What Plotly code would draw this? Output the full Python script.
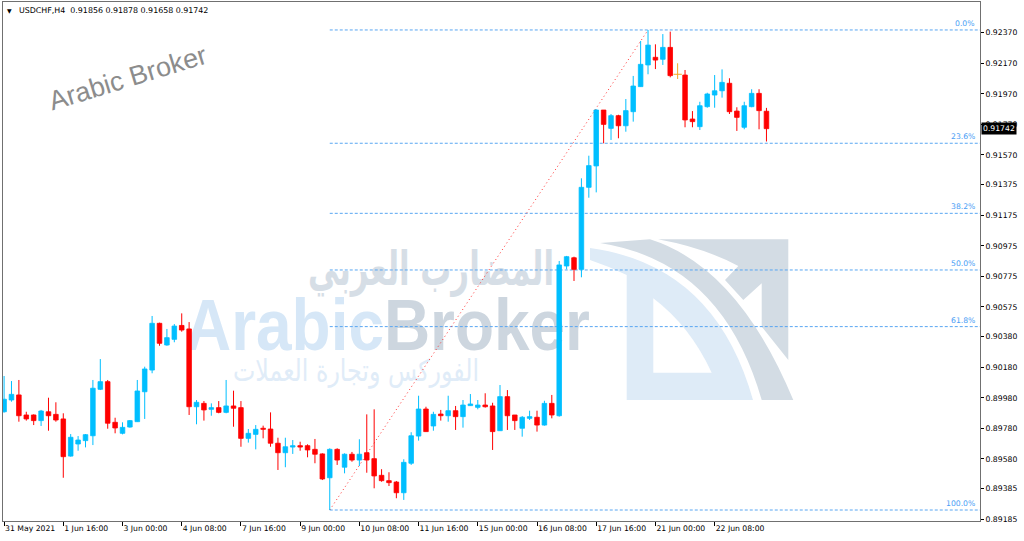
import base64
import plotly.graph_objects as go

# ---------------- data (USDCHF H4) ----------------
open_ = [0.89889, 0.89966, 0.89999, 0.89868, 0.89868, 0.89831, 0.89889, 0.89872, 0.89842, 0.89599,
         0.89678, 0.89700, 0.89732, 0.90036, 0.90086, 0.89820, 0.89748, 0.89789, 0.89824, 0.90020,
         0.90162, 0.90468, 0.90326, 0.90363, 0.90454, 0.90431, 0.89922, 0.89944, 0.89905, 0.89916,
         0.89885, 0.89927, 0.89916, 0.89715, 0.89741, 0.89781, 0.89776, 0.89683, 0.89621, 0.89658,
         0.89667, 0.89667, 0.89643, 0.89613, 0.89457, 0.89643, 0.89526, 0.89611, 0.89573, 0.89621,
         0.89582, 0.89473, 0.89438, 0.89429, 0.89359, 0.89552, 0.89730, 0.89907, 0.89796, 0.89874,
         0.89863, 0.89896, 0.89857, 0.89929, 0.89918, 0.89933, 0.89927, 0.89765, 0.89988, 0.89868,
         0.89781, 0.89846, 0.89853, 0.89802, 0.89944, 0.89863, 0.90843, 0.90897, 0.90821, 0.91358,
         0.91498, 0.91864, 0.91744, 0.91827, 0.91761, 0.91853, 0.92017, 0.92159, 0.92209, 0.92196,
         0.92274, 0.92098, 0.92093, 0.91805, 0.91755, 0.91886, 0.91962, 0.91990, 0.92039, 0.91857,
         0.91751, 0.91886, 0.91973, 0.91856]
high = [0.90123, 0.90090, 0.90097, 0.89889, 0.89872, 0.89901, 0.89981, 0.89951, 0.89879, 0.89743,
        0.89730, 0.89743, 0.90097, 0.90234, 0.90097, 0.89850, 0.89820, 0.89835, 0.90097, 0.90184,
        0.90516, 0.90472, 0.90431, 0.90463, 0.90533, 0.90476, 0.89966, 0.89959, 0.89944, 0.89959,
        0.90097, 0.90027, 0.89959, 0.89776, 0.89802, 0.89798, 0.89885, 0.89719, 0.89719, 0.89704,
        0.89693, 0.89676, 0.89711, 0.89617, 0.89650, 0.89650, 0.89617, 0.89626, 0.89709, 0.89872,
        0.89905, 0.89513, 0.89493, 0.89436, 0.89578, 0.89755, 0.89994, 0.89922, 0.89889, 0.89901,
        0.89994, 0.89927, 0.89966, 0.90005, 0.89966, 0.90010, 0.89948, 0.90064, 0.90031, 0.89868,
        0.89861, 0.89896, 0.89896, 0.89961, 0.89999, 0.90876, 0.90909, 0.90904, 0.91417, 0.91565,
        0.91869, 0.91864, 0.91838, 0.91833, 0.91936, 0.92087, 0.92316, 0.92388, 0.92294, 0.92361,
        0.92377, 0.92170, 0.92126, 0.91857, 0.91918, 0.91977, 0.92093, 0.92130, 0.92072, 0.91882,
        0.91918, 0.92000, 0.92000, 0.91878]
low = [0.89883, 0.89955, 0.89824, 0.89831, 0.89802, 0.89796, 0.89765, 0.89824, 0.89457, 0.89595,
       0.89634, 0.89656, 0.89671, 0.90031, 0.89778, 0.89748, 0.89741, 0.89785, 0.89824, 0.89842,
       0.90141, 0.90321, 0.90321, 0.90344, 0.90413, 0.89868, 0.89807, 0.89831, 0.89863, 0.89879,
       0.89879, 0.89791, 0.89660, 0.89687, 0.89643, 0.89715, 0.89660, 0.89508, 0.89526, 0.89613,
       0.89634, 0.89591, 0.89552, 0.89442, 0.89246, 0.89541, 0.89486, 0.89562, 0.89534, 0.89490,
       0.89388, 0.89431, 0.89403, 0.89323, 0.89312, 0.89541, 0.89700, 0.89759, 0.89765, 0.89831,
       0.89824, 0.89770, 0.89785, 0.89929, 0.89905, 0.89916, 0.89639, 0.89765, 0.89770, 0.89770,
       0.89726, 0.89835, 0.89759, 0.89798, 0.89846, 0.89857, 0.90821, 0.90745, 0.90769, 0.91290,
       0.91325, 0.91646, 0.91668, 0.91679, 0.91722, 0.91788, 0.92017, 0.92098, 0.92132, 0.92159,
       0.92078, 0.92067, 0.91751, 0.91751, 0.91733, 0.91879, 0.91879, 0.91945, 0.91838, 0.91727,
       0.91738, 0.91882, 0.91738, 0.91658]
close = [0.89971, 0.90003, 0.89863, 0.89842, 0.89831, 0.89894, 0.89863, 0.89835, 0.89595, 0.89722,
         0.89704, 0.89739, 0.90043, 0.90086, 0.89814, 0.89783, 0.89787, 0.89831, 0.90025, 0.90169,
         0.90468, 0.90337, 0.90374, 0.90450, 0.90424, 0.89922, 0.89951, 0.89901, 0.89916, 0.89885,
         0.89927, 0.89912, 0.89715, 0.89748, 0.89774, 0.89774, 0.89683, 0.89621, 0.89660, 0.89667,
         0.89658, 0.89639, 0.89611, 0.89449, 0.89643, 0.89573, 0.89611, 0.89573, 0.89611, 0.89573,
         0.89469, 0.89438, 0.89425, 0.89359, 0.89558, 0.89732, 0.89907, 0.89759, 0.89872, 0.89863,
         0.89896, 0.89857, 0.89933, 0.89940, 0.89933, 0.89922, 0.89759, 0.89988, 0.89863, 0.89831,
         0.89853, 0.89857, 0.89802, 0.89944, 0.89868, 0.90850, 0.90904, 0.90821, 0.91358, 0.91500,
         0.91864, 0.91770, 0.91827, 0.91761, 0.91860, 0.92021, 0.92163, 0.92289, 0.92191, 0.92274,
         0.92089, 0.92098, 0.91799, 0.91788, 0.91892, 0.91969, 0.91990, 0.92045, 0.91853, 0.91816,
         0.91892, 0.91973, 0.91860, 0.91742]

x_tick_index = [0, 8, 16, 24, 32, 40, 48, 56, 64, 72, 80, 88, 96]
x_tick_labels = ["31 May 2021", "1 Jun 16:00", "3 Jun 00:00", "4 Jun 08:00", "7 Jun 16:00",
                 "9 Jun 00:00", "10 Jun 08:00", "11 Jun 16:00", "15 Jun 00:00", "16 Jun 08:00",
                 "17 Jun 16:00", "21 Jun 00:00", "22 Jun 08:00"]
y_tick_values = [0.92370, 0.92170, 0.91970, 0.91770, 0.91570, 0.91375, 0.91175, 0.90975, 0.90775,
                 0.90575, 0.90380, 0.90180, 0.89980, 0.89780, 0.89580, 0.89385, 0.89185]

fib_levels = [0.0, 23.6, 38.2, 50.0, 61.8, 100.0]
FIB_FROM = 44   # bar of the swing low
FIB_TO = 87     # bar of the swing high

SYMBOL = "USDCHF,H4"

# ---------------- styling ----------------
BULL = "#00bfff"
BEAR = "#ff0000"
DOJI = "#f5a623"
FIB_COLOR = "#58a6f2"
FONT = "DejaVu Sans"
X_RANGE = [-0.146, 131.85]
Y_RANGE = [0.89174, 0.92571]
BODY_W = 0.62

n = len(open_)
idx = list(range(n))
bull = [i for i in idx if close[i] > open_[i]]
bear = [i for i in idx if close[i] < open_[i]]
doji = [i for i in idx if close[i] == open_[i]]


def wick_xy(ids):
    xs, ys = [], []
    for i in ids:
        xs += [i, i, None]
        ys += [low[i], high[i], None]
    return xs, ys


fig = go.Figure()
for ids, col in ((bull, BULL), (bear, BEAR), (doji, DOJI)):
    wx, wy = wick_xy(ids)
    fig.add_trace(go.Scatter(x=wx, y=wy, mode="lines", line=dict(color=col, width=1),
                             hoverinfo="skip", showlegend=False))
for ids, col in ((bull, BULL), (bear, BEAR)):
    fig.add_trace(go.Bar(
        x=ids,
        base=[min(open_[i], close[i]) for i in ids],
        y=[abs(close[i] - open_[i]) for i in ids],
        width=BODY_W,
        marker=dict(color=col, line=dict(color=col, width=0.8)),
        hoverinfo="skip", showlegend=False))
fig.add_trace(go.Scatter(x=doji, y=[close[i] for i in doji], mode="markers",
                         marker=dict(symbol="line-ew", size=6, line=dict(color=DOJI, width=1)),
                         hoverinfo="skip", showlegend=False))

# ---------------- Fibonacci retracement ----------------
fib_hi = high[FIB_TO]
fib_lo = low[FIB_FROM]
shapes = []
annotations = []
for lv in fib_levels:
    price = fib_hi - (fib_hi - fib_lo) * lv / 100.0
    shapes.append(dict(type="line", xref="x", yref="y", x0=FIB_FROM, x1=X_RANGE[1], y0=price, y1=price,
                       line=dict(color=FIB_COLOR, width=1, dash="3px,2px"), layer="below"))
    annotations.append(dict(xref="paper", yref="y", x=0.997, y=price, xanchor="right", yanchor="bottom",
                            yshift=0, text=f"{lv:.1f}%", showarrow=False,
                            font=dict(family=FONT, size=7.7, color="#4a9ef5")))
shapes.append(dict(type="line", xref="x", yref="y", x0=FIB_FROM, y0=fib_lo, x1=FIB_TO, y1=fib_hi,
                   line=dict(color="#ff3030", width=1, dash="1px,3px"), layer="below"))


# ---------------- decorative positions (pixel -> paper) ----------------
def px(xp):
    return (xp - 3) / 977.0


def py(yp):
    return (521 - yp) / 519.0


NB = "\u00a0"
annotations.append(dict(xref="paper", yref="paper", x=px(9), y=py(10), text="▼", showarrow=False,
                        font=dict(family=FONT, size=6, color="black"), xanchor="center", yanchor="middle"))
annotations.append(dict(xref="paper", yref="paper", x=px(17), y=py(10), showarrow=False,
                        text=f"{SYMBOL}{NB}{NB}{open_[-1]:.5f} {high[-1]:.5f} {low[-1]:.5f} {close[-1]:.5f}",
                        font=dict(family=FONT, size=7.9, color="black"), xanchor="left", yanchor="middle"))
annotations.append(dict(xref="paper", yref="paper", x=px(128), y=py(78), text="Arabic Broker",
                        showarrow=False, textangle=-17,
                        font=dict(family="Liberation Sans", size=27, color="#8c8c8c"),
                        xanchor="center", yanchor="middle"))
annotations.append(dict(xref="paper", yref="y", x=1.0, y=close[-1], xanchor="left", yanchor="middle",
                        xshift=1, text=f"{close[-1]:.5f}", showarrow=False, bgcolor="black",
                        borderpad=1, font=dict(family=FONT, size=7.7, color="white")))

# ---------------- watermark (SVG, drawn under the candles) ----------------
svg = """<svg xmlns="http://www.w3.org/2000/svg" width="977" height="519" viewBox="3 2 977 519" preserveAspectRatio="none">
<path d="M590,248 Q715,265 753,400 L626.7,400 L626.7,275 Q608,266 590,260 Z" fill="#deebf7"/>
<path d="M653.3,298.3 Q690,326 711.7,372.7 L653.3,372.7 Z" fill="#ffffff"/>
<path d="M600,243 Q722,262 761.7,400 L793.3,400 Q738,267 650,239.3 Z" fill="#d3dce4"/>
<path d="M658,239.3 L788.3,239.3 L788.3,360 L761.7,326.7 L761.7,283.3 L743.3,300 L725,280 L738.3,266 Q705,248 658,239.3 Z" fill="#d3dce4"/>
<text x="185" y="350" font-family="Liberation Sans, Arial, sans-serif" font-weight="bold" font-size="73" textLength="405" lengthAdjust="spacingAndGlyphs"><tspan fill="#d6e7f7">Arabic</tspan><tspan fill="#cdd6df">Broker</tspan></text>
<text x="431" y="285" text-anchor="middle" font-family="DejaVu Sans" font-weight="bold" font-size="48" fill="#d6dee6" textLength="246" lengthAdjust="spacingAndGlyphs">المضارب العربي</text>
<text x="356" y="381" text-anchor="middle" font-family="DejaVu Sans" font-size="30" fill="#e0ecf8" textLength="246" lengthAdjust="spacingAndGlyphs">الفوركس وتجارة العملات</text>
</svg>"""
svg_uri = "data:image/svg+xml;base64," + base64.b64encode(svg.encode("utf-8")).decode("ascii")

fig.update_layout(
    width=1024, height=541,
    margin=dict(l=3, r=44, t=2, b=20),
    paper_bgcolor="white", plot_bgcolor="rgba(0,0,0,0)",
    barmode="overlay", showlegend=False,
    shapes=shapes, annotations=annotations,
    images=[dict(source=svg_uri, xref="paper", yref="paper", x=0, y=1, sizex=1, sizey=1,
                 xanchor="left", yanchor="top", sizing="stretch", layer="below")],
    xaxis=dict(range=X_RANGE, showgrid=False, zeroline=False, tickmode="array",
               tickvals=x_tick_index, ticktext=x_tick_labels, ticks="outside", ticklen=4,
               tickcolor="black", ticklabelposition="outside right",
               tickfont=dict(family=FONT, size=7.7, color="black"),
               showline=True, linecolor="#707070", linewidth=1, mirror=True, fixedrange=True),
    yaxis=dict(range=Y_RANGE, side="right", showgrid=False, zeroline=False, tickmode="array",
               tickvals=y_tick_values, ticktext=[f"{v:.5f}" for v in y_tick_values],
               ticks="outside", ticklen=3, tickcolor="black",
               tickfont=dict(family=FONT, size=7.7, color="black"),
               showline=True, linecolor="#707070", linewidth=1, mirror=True, fixedrange=True),
)

fig.write_html(
    "out.html",
    config={"displayModeBar": False},
    post_script="document.body.style.margin='0';document.body.style.overflow='hidden';",
)
